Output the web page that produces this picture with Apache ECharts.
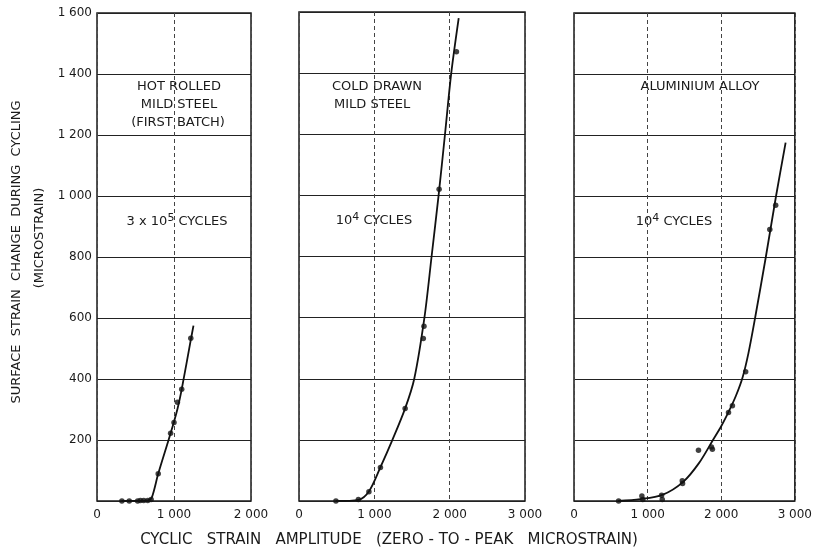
<!DOCTYPE html>
<html><head><meta charset="utf-8">
<script src="https://cdn.jsdelivr.net/npm/echarts@6/dist/echarts.min.js"></script>
<style>html,body{margin:0;padding:0;background:#fff}#c{width:815px;height:548px}</style>
</head><body><div id="c"></div>
<script>
// ---- Data ----
// Panel 1: hot rolled mild steel (first batch), 3 x 10^5 cycles
const hotPtsX = [323, 419, 528, 563, 607, 659, 703, 795, 956, 1000, 1044, 1100, 1218];
const hotPtsY = [0, 0, 0, 2, 2, 2, 5, 89, 222, 257, 324, 366, 534];
const hotCurveX = [320, 660, 710, 795, 956, 1044, 1100, 1218, 1253];
const hotCurveY = [0, 2, 10, 89, 222, 301, 366, 528, 575];
// Panel 2: cold drawn mild steel, 10^4 cycles
const coldPtsX = [490, 788, 928, 1081, 1409, 1650, 1659, 1860, 2090];
const coldPtsY = [0, 5, 30, 110, 303, 532, 572, 1020, 1470];
const coldCurveX = [490, 790, 930, 1080, 1240, 1409, 1530, 1665, 1760, 1853, 1938, 2021, 2120];
const coldCurveY = [0, 4, 32, 110, 200, 303, 400, 600, 800, 1000, 1200, 1400, 1580];
// Panel 3: aluminium alloy, 10^4 cycles
const alPtsX = [606, 922, 935, 1190, 1199, 1471, 1475, 1691, 1867, 1880, 2099, 2152, 2332, 2660, 2740];
const alPtsY = [0, 16, 5, 19, 5, 66, 57, 166, 177, 170, 290, 312, 424, 890, 970];
const alCurveX = [600, 900, 1200, 1480, 1700, 1888, 2000, 2100, 2200, 2290, 2370, 2460, 2606, 2745, 2875];
const alCurveY = [0, 6, 20, 62, 125, 200, 245, 292, 345, 405, 485, 600, 800, 1000, 1175];
// Axis ranges / tick steps
const yMin = 0, yMax = 1600, yStep = 200;
const xMax1 = 2000, xMax23 = 3000, xStep = 1000;
const panelTitles = [["HOT ROLLED", "MILD STEEL", "(FIRST BATCH)"], ["COLD DRAWN", "MILD STEEL"], ["ALUMINIUM ALLOY"]];
const cycleBase = ["3 x 10", "10", "10"];
const cycleExp = ["5", "4", "4"];
const cycleWord = " CYCLES";
const yAxisTitle = "SURFACE  STRAIN  CHANGE  DURING  CYCLING";
const yAxisUnit = "(MICROSTRAIN)";
const xAxisTitle = "CYCLIC   STRAIN   AMPLITUDE   (ZERO - TO - PEAK   MICROSTRAIN)";

const zip = (xs, ys) => xs.map((x, i) => [x, ys[i]]);
const fmt = v => String(v).replace(/\B(?=(\d{3})+(?!\d))/g, ' ');
const FONT = 'DejaVu Sans';
const INK = '#1a1a1a';

const grids = [
  {left: 97, top: 13, width: 154, height: 488},
  {left: 299, top: 12, width: 226, height: 489},
  {left: 574, top: 13, width: 226, height: 488}
].map(g => Object.assign(g, {show: true, borderColor: INK, borderWidth: 1.5, backgroundColor: 'transparent'}));

const xAxes = [xMax1, xMax23, xMax23].map((mx, i) => ({
  type: 'value', gridIndex: i, min: 0, max: mx, interval: xStep,
  axisLine: {show: false}, axisTick: {show: false},
  splitLine: {show: true, lineStyle: {color: '#444', width: 1, type: [4, 3]}},
  axisLabel: {formatter: fmt, color: INK, fontFamily: FONT, fontSize: 12, margin: 8}
}));
const yAxes = [0, 1, 2].map(i => ({
  type: 'value', gridIndex: i, min: yMin, max: yMax, interval: yStep,
  axisLine: {show: false}, axisTick: {show: false},
  splitLine: {show: true, lineStyle: {color: '#222', width: 1}},
  axisLabel: {show: i === 0, formatter: v => v === 0 ? '' : fmt(v), color: INK, fontFamily: FONT, fontSize: 12, margin: 5}
}));

function curve(i, xs, ys) {
  return {type: 'line', xAxisIndex: i, yAxisIndex: i, data: zip(xs, ys), smooth: 0.3,
    showSymbol: false, symbol: 'none', lineStyle: {color: '#111', width: 1.8}, z: 3, silent: true};
}
function pts(i, xs, ys) {
  return {type: 'scatter', xAxisIndex: i, yAxisIndex: i, data: zip(xs, ys), symbolSize: 5.5,
    itemStyle: {color: '#111'}, z: 4, silent: true};
}

const txt = (x, y, text, extra) => ({type: 'text', x, y, style: Object.assign({text, fill: INK, font: '13px "' + FONT + '"', textAlign: 'center', textVerticalAlign: 'middle'}, extra || {})});
const cyc = (x, y, i) => ({type: 'text', x, y, style: {
  text: '{n|' + cycleBase[i] + '}{s|' + cycleExp[i] + '}{n|' + cycleWord + '}',
  fill: INK, textAlign: 'center', textVerticalAlign: 'middle',
  rich: {n: {fontFamily: FONT, fontSize: 13, lineHeight: 18, fill: INK},
         s: {fontFamily: FONT, fontSize: 11, lineHeight: 11, verticalAlign: 'top', fill: INK}}
}});

const graphics = [
  txt(179, 87, panelTitles[0][0]), txt(179, 105, panelTitles[0][1]), txt(178, 123, panelTitles[0][2]),
  txt(332, 87, panelTitles[1][0], {textAlign: 'left'}), txt(334, 105, panelTitles[1][1], {textAlign: 'left'}),
  txt(700, 87, panelTitles[2][0]),
  cyc(177, 222, 0), cyc(374, 221, 1), cyc(674, 222, 2),
  {type: 'text', x: 17, y: 252, rotation: Math.PI / 2, style: {text: yAxisTitle, fill: INK, font: '13px "' + FONT + '"', textAlign: 'center', textVerticalAlign: 'middle'}},
  {type: 'text', x: 40, y: 238, rotation: Math.PI / 2, style: {text: yAxisUnit, fill: INK, font: '13px "' + FONT + '"', textAlign: 'center', textVerticalAlign: 'middle'}},
  txt(389, 540, xAxisTitle, {font: '15px "' + FONT + '"'})
];

const chart = echarts.init(document.getElementById('c'), null, {renderer: 'canvas'});
chart.setOption({
  backgroundColor: '#fff',
  animation: false,
  grid: grids,
  xAxis: xAxes,
  yAxis: yAxes,
  series: [
    curve(0, hotCurveX, hotCurveY), pts(0, hotPtsX, hotPtsY),
    curve(1, coldCurveX, coldCurveY), pts(1, coldPtsX, coldPtsY),
    curve(2, alCurveX, alCurveY), pts(2, alPtsX, alPtsY)
  ],
  graphic: graphics
});
</script>
</body></html>
